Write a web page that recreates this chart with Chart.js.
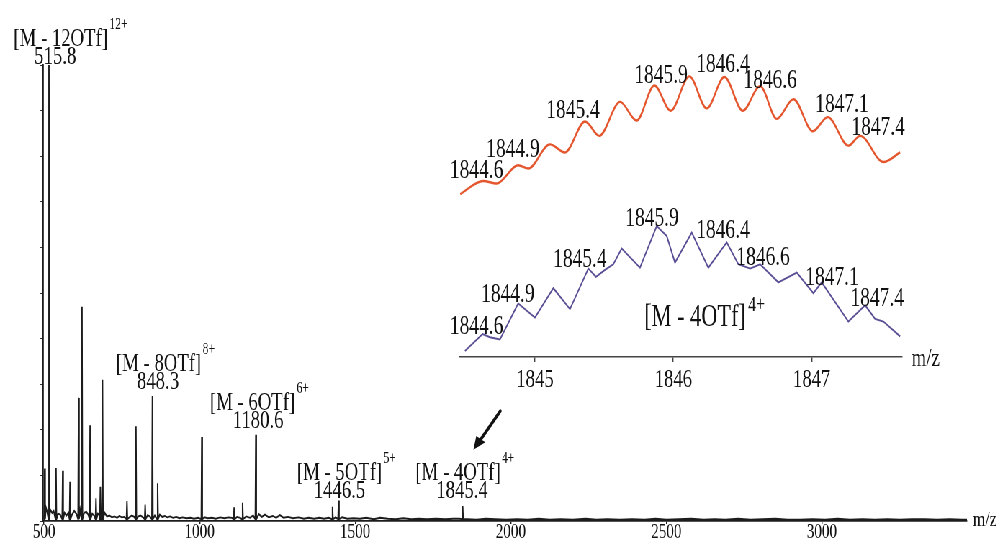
<!DOCTYPE html>
<html><head><meta charset="utf-8">
<script src="https://cdn.jsdelivr.net/npm/chart.js@4.4.1/dist/chart.umd.min.js"></script>
<style>
html,body{margin:0;padding:0;background:#fff;overflow:hidden;width:1008px;height:544px;}
#clip{position:absolute;left:0;top:0;width:1008px;height:544px;overflow:hidden;background:#fff;}
#wrap{position:absolute;left:0;top:0;width:1400px;height:544px;transform:scaleX(0.72);transform-origin:0 0;}
#main{position:absolute;left:0;top:0;}
#inset{position:absolute;left:611px;top:40px;}
</style></head><body>
<div id="clip"><div id="wrap">
<canvas id="main" width="1400" height="544"></canvas>
<canvas id="inset" width="750" height="370"></canvas>
</div></div>
<script>
// ---------------- DATA ----------------
// main spectrum: labelled and unlabelled peaks (m/z, relative intensity %)
const peakMz        = [502, 515.8, 538.5, 560, 583.5, 611, 622, 648, 667, 681, 688, 766.5, 795.4, 825, 848.3, 865, 1007, 1111, 1138, 1180.6, 1427, 1446.5, 1845.4];
const peakIntensity = [11.5, 100, 11.6, 11, 8.6, 27, 47, 21, 5, 7.5, 31, 4.4, 20.8, 3.6, 27.4, 8.3, 18.4, 3, 4, 18.9, 3.1, 4.5, 3.3];
// baseline noise (m/z, relative intensity %)
const noiseMz = [498, 506, 510, 520, 526, 531, 545, 552, 566, 572,
  578, 590, 597, 604, 616, 629, 636, 642, 655, 661,
  673, 677, 695, 702, 710, 718, 726, 735, 742, 750,
  758, 774, 782, 790, 803, 810, 818, 833, 840, 856,
  872, 880, 888, 896, 905, 915, 925, 935, 945, 958,
  970, 982, 995, 1015, 1026, 1040, 1052, 1066, 1080, 1092,
  1104, 1120, 1130, 1150, 1162, 1172, 1190, 1200, 1210, 1222,
  1235, 1246, 1258, 1270, 1284, 1300, 1318, 1335, 1350, 1368,
  1385, 1400, 1415, 1437, 1458, 1475, 1495, 1515, 1535, 1560,
  1580, 1605, 1630, 1655, 1680, 1705, 1730, 1760, 1790, 1815,
  1835, 1860, 1890, 1920, 1950, 1985, 2020, 2055, 2090, 2125,
  2160, 2200, 2240, 2275, 2310, 2350, 2390, 2430, 2465, 2500,
  2540, 2580, 2620, 2655, 2690, 2730, 2770, 2810, 2850, 2890,
  2930, 2970, 3010, 3050, 3090, 3130, 3170, 3210, 3250, 3290,
  3330, 3370, 3410, 3450, 3466];
const noiseLevel = [1.2, 3, 2, 2.5, 1.8, 2.2, 1.6, 1.4, 1.8, 1.2,
  1.8, 1.4, 2.2, 1.6, 2.4, 1.8, 2, 1.4, 1.6, 1.2,
  1.6, 1.4, 1.8, 1, 1.2, 0.8, 1, 0.7, 1.1, 0.8,
  0.9, 0.8, 1.2, 0.9, 1, 1.2, 0.8, 1.3, 1, 1.2,
  1.4, 0.9, 1.1, 0.8, 1, 0.7, 0.9, 0.6, 0.8, 0.6,
  0.7, 0.5, 0.7, 0.8, 0.6, 0.7, 0.5, 0.8, 0.6, 0.8,
  0.7, 0.9, 0.7, 1, 0.7, 1.2, 1.5, 0.9, 1.4, 0.8,
  1.1, 0.7, 1.3, 0.7, 0.9, 0.6, 0.8, 0.5, 0.7, 0.5,
  0.7, 0.5, 0.7, 0.8, 0.8, 0.5, 0.6, 0.5, 0.7, 0.4,
  0.7, 0.5, 0.4, 0.6, 0.4, 0.5, 0.4, 0.5, 0.4, 0.5,
  0.5, 0.4, 0.3, 0.5, 0.4, 0.3, 0.4, 0.3, 0.5, 0.3,
  0.4, 0.3, 0.5, 0.3, 0.4, 0.3, 0.4, 0.3, 0.5, 0.3,
  0.4, 0.5, 0.3, 0.4, 0.3, 0.5, 0.3, 0.4, 0.5, 0.3,
  0.3, 0.4, 0.3, 0.5, 0.3, 0.4, 0.3, 0.4, 0.3, 0.4,
  0.4, 0.3, 0.4, 0.3, 0.3];
const xTickValues = [500, 1000, 1500, 2000, 2500, 3000];
const yTickValues = [0, 10, 20, 30, 40, 50, 60, 70, 80, 90, 100];

// annotated ions
const ionMz      = [515.8, 848.3, 1180.6, 1446.5, 1845.4];
const ionLabels  = ['515.8', '848.3', '1180.6', '1446.5', '1845.4'];
const ionFormula = ['[M - 12OTf]', '[M - 8OTf]', '[M - 6OTf]', '[M - 5OTf]', '[M - 4OTf]'];
const ionCharge  = ['12+', '8+', '6+', '5+', '4+'];

// inset: [M - 4OTf]4+ isotope envelope
const simMz  = [1844.46, 1844.626, 1844.723, 1844.879, 1844.952, 1845.108, 1845.217, 1845.362, 1845.465, 1845.615, 1845.735, 1845.863, 1845.981, 1846.116, 1846.241, 1846.369, 1846.502, 1846.627, 1846.748, 1846.868, 1847.008, 1847.116, 1847.265, 1847.35, 1847.518, 1847.639];
const simInt = [10, 20, 18, 32, 29.5, 48, 41.8, 65.5, 54.5, 80.5, 66.2, 93, 73.7, 100, 75.5, 99.5, 73.7, 92.5, 67.5, 82.5, 58, 68.8, 47, 54.5, 34.5, 41.8];
const expMz  = [1844.494, 1844.622, 1844.675, 1844.747, 1844.879, 1845.0, 1845.133, 1845.253, 1845.386, 1845.441, 1845.506, 1845.566, 1845.627, 1845.759, 1845.88, 1845.952, 1846.012, 1846.133, 1846.253, 1846.386, 1846.47, 1846.555, 1846.627, 1846.759, 1846.892, 1847.012, 1847.072, 1847.265, 1847.386, 1847.458, 1847.518, 1847.639];
const expInt = [4.5, 17.5, 15, 13.3, 40.8, 30, 52.5, 36.5, 67.5, 61.2, 66.5, 70.8, 82.8, 68.2, 100, 92.5, 72, 95, 68.2, 87.5, 70.8, 67.5, 70.8, 57, 64.5, 48.7, 57, 27, 39.5, 29, 27, 15.7];
const isotopeLabels = ['1844.6', '1844.9', '1845.4', '1845.9', '1846.4', '1846.6', '1847.1', '1847.4'];
const insetTickValues = [1845, 1846, 1847];

// ---------------- LAYOUT (positions of annotations, not data) ----------------
const K = 0.72; // horizontal condensing of the figure
const ionLabelPos = [
  {mz: 535.9, level: 101.8, fdx: 5.5},
  {mz: 866.6, level: 30.5, fdx: 0.5},
  {mz: 1187.8, level: 21.9, fdx: -5.5},
  {mz: 1449.5, level: 6.6, fdx: 0},
  {mz: 1843.3, level: 6.6, fdx: -4}
];
const arrowFrom = {mz: 1966.5, level: 24.1};
const arrowTo   = {mz: 1879.8, level: 15.6};
const simLabelPos = [[1844.578, 27.5], [1844.841, 43.5], [1845.275, 73.5], [1845.911, 100.5], [1846.359, 108.8], [1846.699, 96.8], [1847.219, 78], [1847.48, 60.8]];
const expLabelPos = [[1844.578, 23], [1844.805, 47], [1845.325, 74], [1845.846, 105.5], [1846.359, 96.5], [1846.649, 75.5], [1847.147, 60.5], [1847.473, 44]];
const insetIonPos = {mz: 1846.157, level: 29.8};

// ---------------- BUILD ----------------
const STICK = 1.6;
const spectrum = [];
noiseMz.forEach((m, i) => spectrum.push({x: m, y: noiseLevel[i]}));
peakMz.forEach((m, i) => {
  spectrum.push({x: m - STICK, y: 0.4}, {x: m, y: peakIntensity[i]}, {x: m + STICK, y: 0.4});
});
spectrum.sort((a, b) => a.x - b.x);

const SERIF = '"Liberation Serif", "Times New Roman", serif';
const plainTick = v => String(v);

const mainAnno = {
  id: 'mainAnno',
  afterDraw(chart) {
    const ctx = chart.ctx, xs = chart.scales.x, ys = chart.scales.y;
    ctx.save();
    ctx.fillStyle = '#111';
    ctx.textBaseline = 'middle';
    ionMz.forEach((m, i) => {
      const p = ionLabelPos[i];
      const x = xs.getPixelForValue(p.mz), y = ys.getPixelForValue(p.level);
      ctx.font = '26px ' + SERIF;
      ctx.textAlign = 'center';
      ctx.fillText(ionLabels[i], x, y);
      const fx = x + p.fdx / K, fy = y - 18;
      ctx.fillText(ionFormula[i], fx, fy);
      const w = ctx.measureText(ionFormula[i]).width;
      ctx.font = '16px ' + SERIF;
      ctx.textAlign = 'left';
      ctx.fillText(ionCharge[i], fx + w / 2 + 2, fy - 14);
    });
    // axis unit
    ctx.font = '22px ' + SERIF;
    ctx.textAlign = 'left';
    ctx.fillText('m/z', xs.right + 6 / K, ys.bottom - 1);
    // arrow (computed in screen space, drawn in condensed canvas space)
    const x1 = xs.getPixelForValue(arrowFrom.mz) * K, y1 = ys.getPixelForValue(arrowFrom.level);
    const x2 = xs.getPixelForValue(arrowTo.mz) * K, y2 = ys.getPixelForValue(arrowTo.level);
    const dx = x2 - x1, dy = y2 - y1, L = Math.hypot(dx, dy), ux = dx / L, uy = dy / L;
    const hl = 13, hw = 5.5;
    const bx = x2 - ux * hl, by = y2 - uy * hl;
    ctx.strokeStyle = '#111';
    ctx.lineWidth = 3.6;
    ctx.lineCap = 'round';
    ctx.beginPath();
    ctx.moveTo(x1 / K, y1);
    ctx.lineTo(bx / K, by);
    ctx.stroke();
    ctx.beginPath();
    ctx.moveTo(x2 / K, y2);
    ctx.lineTo((bx - uy * hw) / K, by + ux * hw);
    ctx.lineTo((bx + uy * hw) / K, by - ux * hw);
    ctx.closePath();
    ctx.fill();
    ctx.restore();
  }
};

new Chart(document.getElementById('main'), {
  type: 'line',
  data: {datasets: [{data: spectrum, borderColor: '#1c1c1c', borderWidth: 1.9, pointRadius: 0, tension: 0, fill: false}]},
  options: {
    responsive: false, animation: false, devicePixelRatio: 1,
    layout: {padding: {left: 55.3, right: 57, top: 65, bottom: 3}},
    plugins: {legend: {display: false}, tooltip: {enabled: false}},
    scales: {
      x: {
        type: 'linear', min: 498, max: 3466,
        afterBuildTicks: s => { s.ticks = xTickValues.map(v => ({value: v})); },
        ticks: {autoSkip: false, maxRotation: 0, padding: -2, color: '#111', callback: plainTick,
                font: {family: SERIF, size: 21, lineHeight: 1}},
        grid: {drawOnChartArea: false, drawTicks: true, tickLength: 3, color: '#222', lineWidth: 1.4},
        border: {display: true, color: '#1c1c1c', width: 1.8}
      },
      y: {
        min: 0, max: 100,
        afterBuildTicks: s => { s.ticks = yTickValues.map(v => ({value: v})); },
        ticks: {display: false},
        grid: {drawOnChartArea: false, drawTicks: true, tickLength: 5, color: '#333', lineWidth: 1},
        border: {display: true, color: '#1c1c1c', width: 1.8}
      }
    }
  },
  plugins: [mainAnno]
});

const insetAnno = {
  id: 'insetAnno',
  afterDraw(chart) {
    const ctx = chart.ctx, xs = chart.scales.x, yr = chart.scales.yRed, yb = chart.scales.yBlue;
    ctx.save();
    ctx.fillStyle = '#111';
    ctx.textBaseline = 'middle';
    ctx.textAlign = 'center';
    ctx.font = '27px ' + SERIF;
    isotopeLabels.forEach((t, i) => {
      ctx.fillText(t, xs.getPixelForValue(simLabelPos[i][0]), yr.getPixelForValue(simLabelPos[i][1]));
      ctx.fillText(t, xs.getPixelForValue(expLabelPos[i][0]), yb.getPixelForValue(expLabelPos[i][1]));
    });
    ctx.font = '31px ' + SERIF;
    const ix = xs.getPixelForValue(insetIonPos.mz), iy = yb.getPixelForValue(insetIonPos.level);
    ctx.fillText(ionFormula[4], ix, iy);
    const w = ctx.measureText(ionFormula[4]).width;
    ctx.font = '22px ' + SERIF;
    ctx.textAlign = 'left';
    ctx.fillText(ionCharge[4], ix + w / 2 + 3, iy - 13);
    ctx.font = '26px ' + SERIF;
    ctx.fillText('m/z', xs.right + 14, yb.bottom + 2);
    ctx.restore();
  }
};

new Chart(document.getElementById('inset'), {
  type: 'line',
  data: {datasets: [
    {data: simMz.map((m, i) => ({x: m, y: simInt[i]})), yAxisID: 'yRed', borderColor: '#e4572e', borderWidth: 2.4,
     pointRadius: 0, cubicInterpolationMode: 'monotone', fill: false},
    {data: expMz.map((m, i) => ({x: m, y: expInt[i]})), yAxisID: 'yBlue', borderColor: '#5a4e95', borderWidth: 1.9,
     pointRadius: 0, tension: 0, fill: false}
  ]},
  options: {
    responsive: false, animation: false, devicePixelRatio: 1,
    layout: {padding: {left: 27.8, right: 108.7, top: 20, bottom: 12.5}},
    plugins: {legend: {display: false}, tooltip: {enabled: false}},
    scales: {
      x: {
        type: 'linear', min: 1844.458, max: 1847.65,
        afterBuildTicks: s => { s.ticks = insetTickValues.map(v => ({value: v})); },
        ticks: {autoSkip: false, maxRotation: 0, padding: 4.8, color: '#111', callback: plainTick,
                font: {family: SERIF, size: 26, lineHeight: 1}},
        grid: {drawOnChartArea: false, drawTicks: true, tickLength: 5, color: '#444', lineWidth: 1.4},
        border: {display: true, color: '#444', width: 1.6}
      },
      yBlue: {display: false, min: 0, max: 226.9},
      yRed: {display: false, min: -114.55, max: 112.5}
    }
  },
  plugins: [insetAnno]
});
</script>
</body></html>
